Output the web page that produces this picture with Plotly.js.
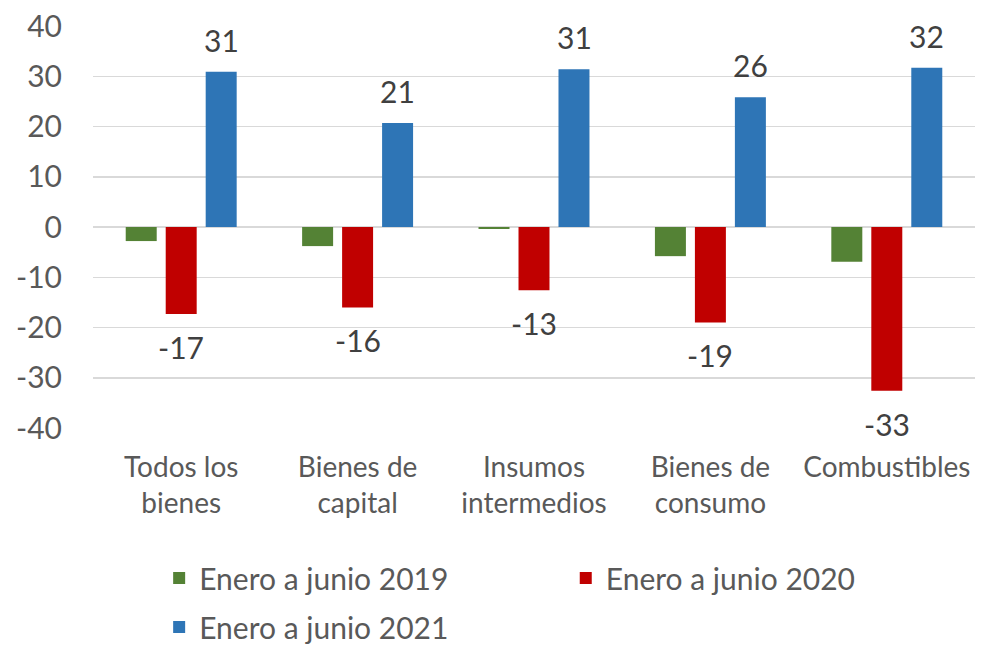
<!DOCTYPE html>
<html><head><meta charset="utf-8">
<script src="https://cdn.plot.ly/plotly-3.0.1.min.js"></script>
<style>html,body{margin:0;padding:0;background:#fff}#chart{width:986px;height:647px}</style>
</head><body><div id="chart"></div>
<script>
const categories = ["Todos los<br>bienes","Bienes de<br>capital","Insumos<br>intermedios","Bienes de<br>consumo","Combustibles"];
const series2019 = [-2.8, -3.8, -0.4, -5.8, -6.9];
const series2020 = [-17.3, -16.0, -12.6, -19.0, -32.6];
const series2021 = [30.9, 20.7, 31.4, 25.8, 31.7];
const names = ["Enero a junio 2019","Enero a junio 2020","Enero a junio 2021"];
const tickVals = [-40,-30,-20,-10,0,10,20,30,40];

const FONT = "Lato, 'Open Sans', sans-serif";
const traces = [
  {type:'bar', x:categories, y:series2019, name:names[0], marker:{color:'#548235'}, legend:'legend', hoverinfo:'none'},
  {type:'bar', x:categories, y:series2020, name:names[1], marker:{color:'#c00000'}, legend:'legend3', hoverinfo:'none'},
  {type:'bar', x:categories, y:series2021, name:names[2], marker:{color:'#2e75b6'}, legend:'legend2', hoverinfo:'none'}
];

const annotations = [];
categories.forEach((c,i)=>{
  annotations.push({x:c, y:series2020[i], xref:'x', yref:'y', text:series2020[i].toFixed(0), showarrow:false,
    yanchor:'top', yshift:-13, font:{family:FONT,size:30,color:'#404040'}});
  annotations.push({x:c, y:series2021[i], xref:'x', yref:'y', text:series2021[i].toFixed(0), showarrow:false,
    yanchor:'bottom', yshift:12, xshift:40, font:{family:FONT,size:30,color:'#404040'}});
});

const legFont = {family:FONT,size:30,color:'#595959'};
const layout = {
  width:986, height:647,
  margin:{l:93, r:11, t:26, b:219, autoexpand:false},
  paper_bgcolor:'#fff', plot_bgcolor:'#fff',
  barmode:'group', bargap:0.32, bargroupgap:0.225,
  font:{family:FONT, color:'#595959'},
  xaxis:{type:'category', showgrid:false, showline:false, zeroline:false, ticks:'',
    tickfont:{family:FONT,size:28,color:'#595959'}, ticklabelstandoff:20},
  yaxis:{range:[-40,40], tickvals:tickVals, ticktext:tickVals.map(String), showgrid:true, gridcolor:'#d9d9d9', gridwidth:1.5,
    zeroline:true, zerolinecolor:'#d9d9d9', zerolinewidth:1.5, showline:false, ticks:'',
    tickfont:{family:FONT,size:30,color:'#595959'}, ticklabelstandoff:30},
  showlegend:true,
  legend:{orientation:'h', x:0.075, xanchor:'left', y:-0.373, yanchor:'middle', font:legFont, bgcolor:'rgba(0,0,0,0)'},
  legend3:{orientation:'h', x:0.536, xanchor:'left', y:-0.373, yanchor:'middle', font:legFont, bgcolor:'rgba(0,0,0,0)'},
  legend2:{orientation:'h', x:0.075, xanchor:'left', y:-0.495, yanchor:'middle', font:legFont, bgcolor:'rgba(0,0,0,0)'},
  annotations:annotations
};
Plotly.newPlot('chart', traces, layout, {displayModeBar:false, staticPlot:true});
</script></body></html>
